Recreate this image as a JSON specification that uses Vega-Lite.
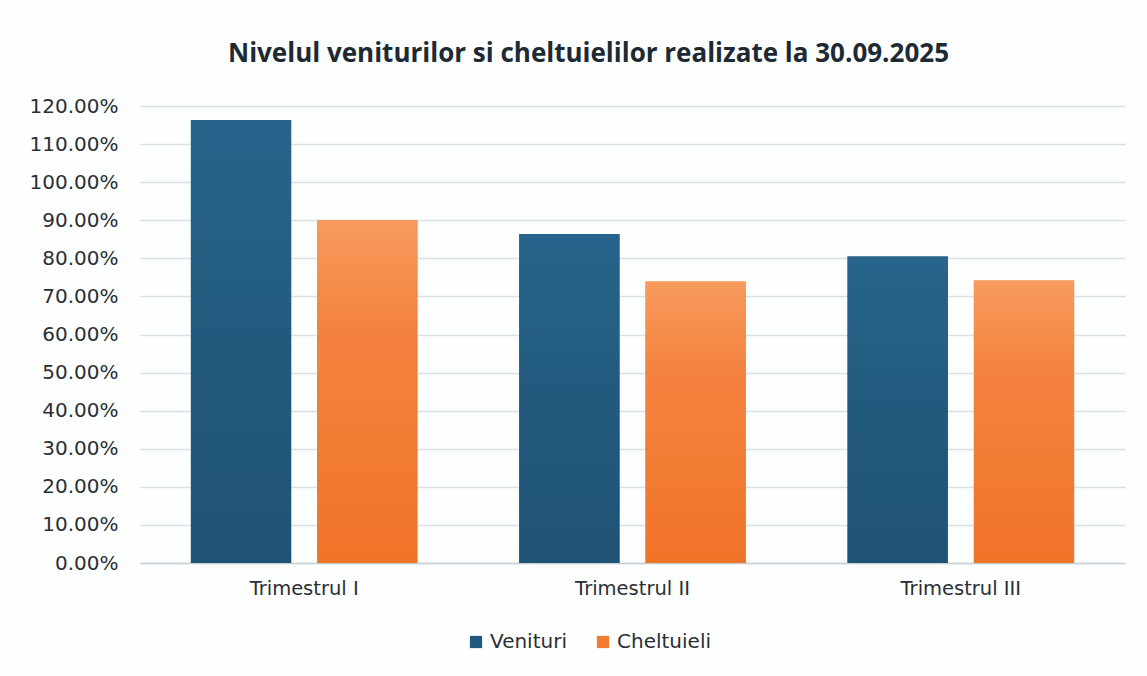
{
  "$schema": "https://vega.github.io/schema/vega-lite/v6.json",
  "autosize": "none",
  "width": 985,
  "height": 457,
  "padding": {"left": 140, "top": 106, "right": 22, "bottom": 113},
  "background": "#fdfefe",
  "title": {
    "text": "Nivelul veniturilor si cheltuielilor realizate la 30.09.2025",
    "font": "Open Sans",
    "fontSize": 26,
    "fontWeight": "bold",
    "color": "#1e2a33",
    "anchor": "middle",
    "dx": -44,
    "offset": 29
  },
  "data": {
    "values": [
      {"trimestru": "Trimestrul I", "serie": "Venituri", "valoare": 1.163},
      {"trimestru": "Trimestrul I", "serie": "Cheltuieli", "valoare": 0.90},
      {"trimestru": "Trimestrul II", "serie": "Venituri", "valoare": 0.864},
      {"trimestru": "Trimestrul II", "serie": "Cheltuieli", "valoare": 0.739},
      {"trimestru": "Trimestrul III", "serie": "Venituri", "valoare": 0.805},
      {"trimestru": "Trimestrul III", "serie": "Cheltuieli", "valoare": 0.742}
    ]
  },
  "encoding": {
    "x": {
      "field": "trimestru",
      "type": "nominal",
      "sort": ["Trimestrul I", "Trimestrul II", "Trimestrul III"],
      "scale": {"paddingInner": 0.31, "paddingOuter": 0.155},
      "axis": {
        "title": null,
        "labelAngle": 0,
        "ticks": false,
        "labelPadding": 16,
        "labelFont": "DejaVu Sans",
        "labelFontSize": 19.5,
        "labelColor": "#2a2f33",
        "domainColor": "#c8ced3",
        "domainWidth": 1.5
      }
    },
    "xOffset": {
      "field": "serie",
      "type": "nominal",
      "sort": ["Venituri", "Cheltuieli"],
      "scale": {"domain": ["Venituri", "Cheltuieli"], "paddingInner": 0.206}
    },
    "y": {
      "field": "valoare",
      "type": "quantitative",
      "scale": {"domain": [0, 1.2], "nice": false},
      "axis": {
        "title": null,
        "format": ".2%",
        "values": [0, 0.1, 0.2, 0.3, 0.4, 0.5, 0.6, 0.7, 0.8, 0.9, 1.0, 1.1, 1.2],
        "domain": false,
        "ticks": false,
        "labelPadding": 22,
        "labelFont": "DejaVu Sans",
        "labelFontSize": 20,
        "labelColor": "#2a2f33",
        "gridColor": "#d9e1e8",
        "gridWidth": 1.5
      }
    }
  },
  "layer": [
    {
      "mark": {"type": "bar"},
      "encoding": {
        "color": {
          "field": "serie",
          "type": "nominal",
          "sort": ["Venituri", "Cheltuieli"],
          "scale": {"domain": ["Venituri", "Cheltuieli"], "range": ["#215a80", "#f27c32"]},
          "legend": {
            "title": null,
            "orient": "none",
            "legendX": 326,
            "legendY": 526,
            "direction": "horizontal",
            "symbolType": "square",
            "symbolSize": 150,
            "symbolStrokeWidth": 0,
            "labelFont": "DejaVu Sans",
            "labelFontSize": 20,
            "labelColor": "#2a2f33",
            "columnPadding": 26
          }
        }
      }
    },
    {
      "transform": [{"filter": "datum.serie === 'Venituri'"}],
      "mark": {
        "type": "bar",
        "color": {
          "gradient": "linear",
          "x1": 0, "y1": 0, "x2": 0, "y2": 1,
          "stops": [
            {"offset": 0, "color": "#27648b"},
            {"offset": 0.5, "color": "#225a7e"},
            {"offset": 1, "color": "#1f5376"}
          ]
        }
      }
    },
    {
      "transform": [{"filter": "datum.serie === 'Cheltuieli'"}],
      "mark": {
        "type": "bar",
        "color": {
          "gradient": "linear",
          "x1": 0, "y1": 0, "x2": 0, "y2": 1,
          "stops": [
            {"offset": 0, "color": "#f89b5e"},
            {"offset": 0.3, "color": "#f48340"},
            {"offset": 1, "color": "#f07428"}
          ]
        }
      }
    }
  ],
  "config": {
    "view": {"stroke": null}
  }
}
